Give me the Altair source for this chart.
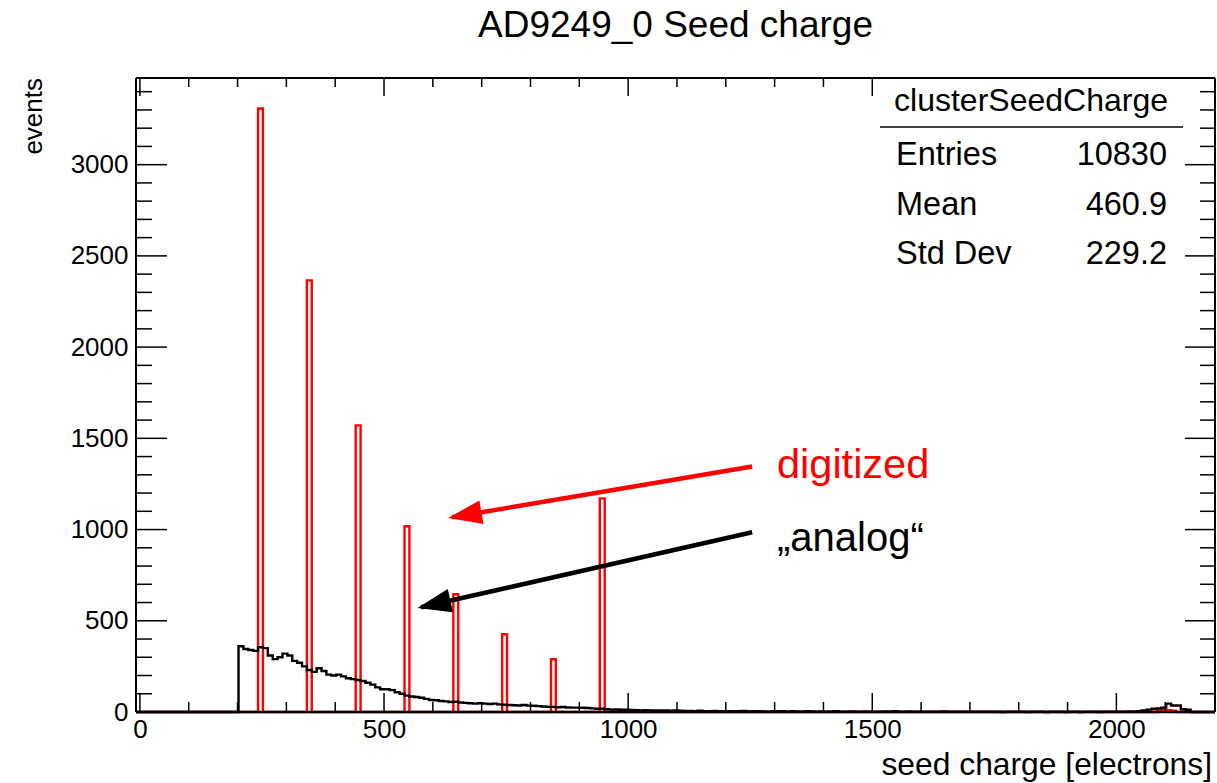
import altair as alt
import pandas as pd

# ---------------------------------------------------------------------------
# Histogram binning (10 electrons per bin)
# ---------------------------------------------------------------------------
BIN_WIDTH = 10
X_MIN, X_MAX = -8, 2202
Y_MAX = 3475

# digitized seed charge: left bin edge -> events
digitized_edges = [242, 342, 442, 542, 642, 742, 842, 942, 2082, 2092, 2102, 2112]
digitized_counts = [3308, 2366, 1571, 1018, 645, 426, 289, 1171, 8, 12, 10, 7]

# "analog" seed charge: consecutive bins starting at this edge
analog_first_edge = 202
analog_counts = [
    360, 345, 340, 335, 355, 350, 310, 290, 300, 320,
    310, 280, 270, 250, 230, 220, 240, 225, 205, 200,
    205, 195, 185, 180, 175, 170, 160, 150, 135, 125,
    125, 120, 108, 100, 90, 85, 82, 78, 72, 66,
    64, 60, 58, 55, 56, 52, 50, 48, 46, 48,
    46, 44, 46, 42, 40, 38, 37, 36, 38, 35,
    34, 32, 30, 28, 28, 26, 27, 25, 24, 24,
    23, 22, 20, 18, 18, 15, 13, 14, 12, 12,
    11, 10, 9, 10, 9, 8, 8, 9, 7, 8,
    7, 6, 6, 5, 7, 5, 4, 6, 5, 4,
    5, 3, 4, 6, 3, 4, 5, 3, 2, 4,
    3, 5, 2, 4, 3, 2, 4, 3, 1, 3,
    2, 3, 4, 2, 1, 3, 2, 2, 3, 1,
    2, 1, 3, 2, 5, 1, 2, 3, 1, 2,
    1, 2, 2, 1, 3, 1, 2, 1, 2, 1,
    1, 2, 1, 1, 2, 1, 0, 2, 1, 1,
    1, 0, 2, 1, 1, 0, 1, 2, 1, 0,
    1, 1, 0, 1, 2, 1, 0, 1, 1, 2,
    1, 2, 3, 2, 5, 8, 13, 18, 20, 24,
    46, 36, 36, 15, 12,
]

# statistics box
stats_name = "clusterSeedCharge"
stats_labels = ["Entries", "Mean", "Std Dev"]
stats_values = ["10830", "460.9", "229.2"]

# axis ticks
x_major = [0, 500, 1000, 1500, 2000]
x_minor = [v for v in range(100, 2200, 100) if v % 500]
y_major = [0, 500, 1000, 1500, 2000, 2500, 3000]
y_minor = [v for v in range(100, 3475, 100) if v % 500]

# annotation arrows (data coordinates: start -> tip)
arrow_digitized = {"x": [1254, 639], "y": [1346, 1067]}
arrow_analog = {"x": [1254, 576], "y": [985, 574]}

FONT = "Liberation Sans"
W, H = 1079, 634


def step_frame(counts_by_edge):
    edges = list(range(X_MIN, X_MAX, BIN_WIDTH))
    rows = [{"x": e, "n": counts_by_edge.get(e, 0)} for e in edges]
    rows.append({"x": X_MAX, "n": 0})
    return pd.DataFrame(rows)


digitized_df = step_frame(dict(zip(digitized_edges, digitized_counts)))
analog_df = step_frame({analog_first_edge + i * BIN_WIDTH: c
                        for i, c in enumerate(analog_counts)})

xscale = alt.Scale(domain=[X_MIN, X_MAX], nice=False, zero=False)
yscale = alt.Scale(domain=[0, Y_MAX], nice=False, zero=False)

x_axis = alt.Axis(values=x_major, ticks=False, domain=False, grid=False,
                  labelFontSize=26, labelPadding=4, labelFlush=False, format="d",
                  labelFont=FONT, labelColor="black", title=None)
y_axis = alt.Axis(values=y_major, ticks=False, domain=False, grid=False,
                  labelFontSize=26, labelPadding=8, labelFlush=False, format="d",
                  labelFont=FONT, labelColor="black", title=None)


def X(field):
    return alt.X(field, scale=xscale, axis=x_axis)


def Y(field):
    return alt.Y(field, scale=yscale, axis=y_axis)


digitized_line = alt.Chart(digitized_df).mark_line(
    interpolate="step-after", color="#ff0000", strokeWidth=2.4, strokeJoin="miter"
).encode(x=X("x:Q"), y=Y("n:Q"))

analog_line = alt.Chart(analog_df).mark_line(
    interpolate="step-after", color="black", strokeWidth=2.4, strokeJoin="miter"
).encode(x=X("x:Q"), y=Y("n:Q"))


def xticks(values, y0, y1):
    return alt.Chart(pd.DataFrame({"x": values})).mark_rule(
        color="black", strokeWidth=1.5
    ).encode(x=X("x:Q"), y=alt.value(y0), y2=alt.value(y1))


def yticks(values, x0, x1):
    return alt.Chart(pd.DataFrame({"n": values})).mark_rule(
        color="black", strokeWidth=1.5
    ).encode(y=Y("n:Q"), x=alt.value(x0), x2=alt.value(x1))


ticks = [
    xticks(x_major, H, H - 19), xticks(x_minor, H, H - 10),
    xticks(x_major, 0, 18), xticks(x_minor, 0, 9),
    yticks(y_major, 0, 31), yticks(y_minor, 0, 16),
    yticks(y_major, W, W - 30), yticks(y_minor, W, W - 15),
]

# statistics box background and separator
one = pd.DataFrame({"k": [0]})
stats_box = alt.Chart(one).mark_rect(color="white").encode(
    x=alt.value(739), x2=alt.value(1047), y=alt.value(1), y2=alt.value(207)
)
stats_sep = alt.Chart(one).mark_rule(color="black", strokeWidth=1.5).encode(
    x=alt.value(744), x2=alt.value(1047), y=alt.value(49)
)


def label(txt, x, y, size, align="left", color="black", angle=0):
    return alt.Chart(pd.DataFrame({"t": [txt]})).mark_text(
        font=FONT, fontSize=size, align=align, baseline="alphabetic",
        color=color, angle=angle
    ).encode(text="t:N", x=alt.value(x), y=alt.value(y))


texts = [
    label("AD9249_0 Seed charge", 539.5, -41, 37, align="center"),
    label("events", -94, 0, 26, align="right", angle=270),
    label("seed charge [electrons]", 1076, 697, 31.8, align="right"),
    label(stats_name, 895, 33, 32, align="center"),
]
for i, (lab, val) in enumerate(zip(stats_labels, stats_values)):
    texts.append(label(lab, 760, 87 + 49.5 * i, 32.5))
    texts.append(label(val, 1031, 87 + 49.5 * i, 32.5, align="right"))

texts.append(label("digitized", 641, 400, 41.5, color="#ff0000"))
texts.append(label("\u201eanalog\u201c", 641, 473, 40))


def arrow(points, color):
    df = pd.DataFrame(points).rename(columns={"y": "n"})
    return alt.Chart(df).mark_line(color=color, strokeWidth=4.5).encode(
        x=X("x:Q"), y=Y("n:Q"),
    )


def arrow_head(points, color, angle):
    df = pd.DataFrame({"x": [points["x"][-1]], "n": [points["y"][-1]]})
    return alt.Chart(df).mark_point(
        shape="M -0.25 0 L 2 -0.8 L 2 0.8 Z", filled=True, color=color,
        opacity=1, size=900, angle=angle, strokeWidth=0
    ).encode(x=X("x:Q"), y=Y("n:Q"))


arrows = [
    arrow(arrow_digitized, "#ff0000"), arrow_head(arrow_digitized, "#ff0000", 350.3),
    arrow(arrow_analog, "black"), arrow_head(arrow_analog, "black", 347.2),
]

frame = [
    alt.Chart(one).mark_rule(color="black", strokeWidth=2).encode(
        x=alt.value(0), x2=alt.value(W), y=alt.value(0)),
    alt.Chart(one).mark_rule(color="black", strokeWidth=2.6).encode(
        x=alt.value(0), x2=alt.value(W), y=alt.value(H)),
    alt.Chart(one).mark_rule(color="black", strokeWidth=2).encode(
        x=alt.value(0), y=alt.value(0), y2=alt.value(H)),
    alt.Chart(one).mark_rule(color="black", strokeWidth=2).encode(
        x=alt.value(W), y=alt.value(0), y2=alt.value(H)),
]

chart = alt.layer(
    digitized_line, analog_line, *ticks, stats_box, stats_sep, *texts, *arrows, *frame
).properties(
    width=W, height=H,
    autosize=alt.AutoSizeParams(type="none"),
    padding={"left": 136, "top": 78, "right": 2, "bottom": 71},
    background="white",
).configure_view(stroke=None)

chart.save("out.html", embed_options={"renderer": "svg", "actions": False})
